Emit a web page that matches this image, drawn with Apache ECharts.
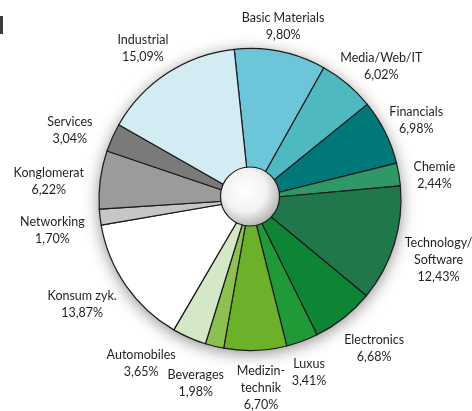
<!DOCTYPE html>
<html>
<head>
<meta charset="utf-8">
<script src="https://cdn.jsdelivr.net/npm/echarts@6/dist/echarts.min.js"></script>
<style>
  html, body { margin: 0; padding: 0; background: #ffffff; }
  #chart { width: 472px; height: 411px; }
</style>
</head>
<body>
<div id="chart"></div>
<script>
// Sector weights (%), clockwise from the top
const sectors = [
  'Basic Materials', 'Media/Web/IT', 'Financials', 'Chemie', 'Technology/\nSoftware',
  'Electronics', 'Luxus', 'Medizin-\ntechnik', 'Beverages', 'Automobiles',
  'Konsum zyk.', 'Networking', 'Konglomerat', 'Services', 'Industrial'
];
const weights = [
  9.80, 6.02, 6.98, 2.44, 12.43,
  6.68, 3.41, 6.70, 1.98, 3.65,
  13.87, 1.70, 6.22, 3.04, 15.09
];
const colors = [
  '#6cc5d9', '#4fb9c2', '#00787a', '#2f9866', '#20784a',
  '#0e8535', '#1f9a37', '#6bb22a', '#8cc152', '#d4e8c8',
  '#ffffff', '#c6c6c6', '#9b9b9b', '#7a7a7a', '#d3ebf3'
];

// Label placement: distance from the centre and a small angular nudge (deg)
const labelRadius = [176, 187, 184, 186, 198, 194, 183, 189, 192, 197, 198, 200, 202, 193, 185];
const labelNudge  = [-0.8, 4.5, 1.1, 2.1, 0.6, -1.4, 1.4, -1.3, 2.8, 9.8, 2.7, -2.2, -2.5, -3.2, -2.2];

const CX = 250, CY = 199.5, R = 151;
const START = -6; // degrees, measured clockwise from 12 o'clock

const total = weights.reduce((a, b) => a + b, 0);
const midAngles = [];
let acc = 0;
weights.forEach(w => {
  midAngles.push(START + (acc + w / 2) / total * 360);
  acc += w;
});

const fmt = v => v.toFixed(2).replace('.', ',') + '%';

const chart = echarts.init(document.getElementById('chart'), null, { renderer: 'canvas' });

chart.setOption({
  backgroundColor: '#ffffff',
  animation: false,
  graphic: [{
    type: 'rect',
    left: 0, top: 16,
    shape: { width: 3, height: 18 },
    style: { fill: '#3c3c3c' }
  }],
  series: [
    {
      // soft drop shadow beneath the disc
      type: 'pie',
      silent: true,
      center: [CX, CY],
      radius: [0, R],
      label: { show: false },
      labelLine: { show: false },
      itemStyle: {
        color: '#ffffff',
        shadowBlur: 16,
        shadowColor: 'rgba(0,0,0,0.45)',
        shadowOffsetX: 0,
        shadowOffsetY: 3
      },
      data: [{ value: 1 }],
      z: 1
    },
    {
      type: 'pie',
      center: [CX, CY],
      radius: [0, R],
      startAngle: 90 - START,
      clockwise: true,
      avoidLabelOverlap: false,
      itemStyle: { borderColor: '#1b1b1b', borderWidth: 1.2 },
      label: {
        show: true,
        position: 'outside',
        fontFamily: 'Lato',
        fontSize: 12.5,
        lineHeight: 17,
        color: '#231f20',
        align: 'center',
        formatter: p => p.name + '\n' + fmt(p.value)
      },
      labelLine: { show: false },
      labelLayout: p => {
        const i = p.dataIndex;
        const a = (midAngles[i] + labelNudge[i]) * Math.PI / 180;
        const r = labelRadius[i];
        return {
          x: CX + r * Math.sin(a),
          y: CY - r * Math.cos(a),
          align: 'center',
          verticalAlign: 'middle'
        };
      },
      data: sectors.map((n, i) => ({
        name: n,
        value: weights[i],
        itemStyle: { color: colors[i] }
      })),
      z: 2
    },
    {
      // shaded hub in the middle
      type: 'pie',
      silent: true,
      center: [CX, CY - 3],
      radius: [0, 29.5],
      label: { show: false },
      labelLine: { show: false },
      itemStyle: {
        borderColor: '#1b1b1b',
        borderWidth: 1.2,
        color: {
          type: 'radial', x: 0.42, y: 0.4, r: 0.65,
          colorStops: [
            { offset: 0, color: '#ffffff' },
            { offset: 0.55, color: '#f2f2f2' },
            { offset: 1, color: '#a9a9a9' }
          ]
        }
      },
      data: [{ value: 1 }],
      z: 3
    }
  ]
});
</script>
</body>
</html>
